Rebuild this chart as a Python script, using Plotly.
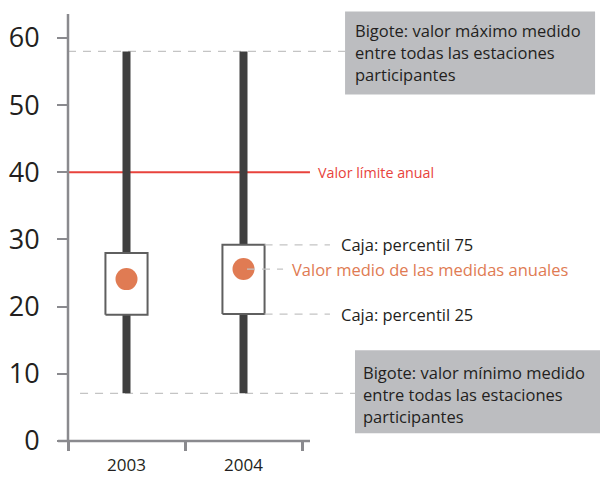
import plotly.graph_objects as go

# Annual NO2-style summary per year
years = ["2003", "2004"]
whisker_min = [7.1, 7.1]
whisker_max = [58.0, 58.0]
p25 = [18.8, 18.9]
p75 = [28.0, 29.2]
means = [24.1, 25.6]
limit_value = 40
y_ticks = [0, 10, 20, 30, 40, 50, 60]

max_note = ["Bigote: valor máximo medido", "entre todas las estaciones", "participantes"]
min_note = ["Bigote: valor mínimo medido", "entre todas las estaciones", "participantes"]
limit_label = "Valor límite anual"
p75_label = "Caja: percentil 75"
p25_label = "Caja: percentil 25"
mean_label = "Valor medio de las medidas anuales"

FONT = "Open Sans"
TEXT = "#231f20"
AXIS = "#8a8a8e"
WHISKER = "#3f3f3f"
BOX_LINE = "#5f5f5f"
DOT = "#e07b53"
RED = "#e8433c"
DASH = "#c4c4c4"
NOTE_BG = "#bcbdc0"

xpos = list(range(len(years)))
half_box = 0.18

fig = go.Figure()

# whiskers
for i in xpos:
    fig.add_trace(go.Scatter(
        x=[i, i], y=[whisker_min[i], whisker_max[i]], mode="lines",
        line=dict(color=WHISKER, width=8), hoverinfo="skip", showlegend=False))

# interquartile boxes
for i in xpos:
    fig.add_trace(go.Scatter(
        x=[i - half_box, i + half_box, i + half_box, i - half_box, i - half_box],
        y=[p25[i], p25[i], p75[i], p75[i], p25[i]],
        mode="lines", fill="toself", fillcolor="white",
        line=dict(color=BOX_LINE, width=2), hoverinfo="skip", showlegend=False))

# annual means
fig.add_trace(go.Scatter(
    x=xpos, y=means, mode="markers",
    marker=dict(color=DOT, size=22, line=dict(width=0)),
    hoverinfo="skip", showlegend=False))

last = xpos[-1]
dash_style = dict(color=DASH, width=1.2, dash="8px,7px")
shapes = [
    # limit line
    dict(type="line", xref="x", yref="y", x0=-0.5, x1=1.568,
         y0=limit_value, y1=limit_value, line=dict(color=RED, width=2), layer="below"),
    # whisker extremes
    dict(type="line", xref="x", yref="y", x0=-0.5, x1=1.868,
         y0=max(whisker_max), y1=max(whisker_max), line=dash_style, layer="below"),
    dict(type="line", xref="x", yref="y", x0=-0.397, x1=1.953,
         y0=min(whisker_min), y1=min(whisker_min), line=dash_style, layer="below"),
    # box guides
    dict(type="line", xref="x", yref="y", x0=last + half_box, x1=1.739,
         y0=p75[last], y1=p75[last], line=dash_style),
    dict(type="line", xref="x", yref="y", x0=last + half_box, x1=1.739,
         y0=p25[last], y1=p25[last], line=dash_style),
    dict(type="line", xref="x", yref="y", x0=last + 0.03, x1=1.338,
         y0=means[last], y1=means[last], line=dash_style),
    # note backgrounds
    dict(type="rect", xref="x", yref="y", xsizemode="pixel", ysizemode="pixel",
         xanchor=1.868, yanchor=max(whisker_max), x0=0, x1=250, y0=-43, y1=40,
         fillcolor=NOTE_BG, line=dict(width=0)),
    dict(type="rect", xref="x", yref="y", xsizemode="pixel", ysizemode="pixel",
         xanchor=1.953, yanchor=min(whisker_min), x0=0, x1=250, y0=-40, y1=43,
         fillcolor=NOTE_BG, line=dict(width=0)),
    # axis lines
    dict(type="line", xref="paper", yref="paper", x0=-0.0188, x1=0.4549, y0=0, y1=0,
         line=dict(color=AXIS, width=2.5)),
    dict(type="line", xref="paper", yref="paper", x0=0, x1=0, y0=0, y1=0.968,
         line=dict(color=AXIS, width=2.5)),
]

annotations = [
    dict(x=1.62, y=limit_value, text=limit_label, xanchor="left", yanchor="middle",
         showarrow=False, font=dict(family=FONT, size=14.3, color=RED)),
    dict(x=1.816, y=p75[last], text=p75_label, xanchor="left", yanchor="middle",
         showarrow=False, font=dict(family=FONT, size=16.5, color=TEXT)),
    dict(x=1.816, y=p25[last], text=p25_label, xanchor="left", yanchor="middle",
         showarrow=False, font=dict(family=FONT, size=16.5, color=TEXT)),
    dict(x=1.397, y=means[last], text=mean_label, xanchor="left", yanchor="middle",
         showarrow=False, font=dict(family=FONT, size=16.5, color=DOT)),
]
line_offsets = [21, -1, -23]
for note, xa, xs, ya in [(max_note, 1.868, 8, max(whisker_max)),
                         (min_note, 1.953, 6, min(whisker_min))]:
    for line, off in zip(note, line_offsets):
        annotations.append(dict(
            x=xa, y=ya, text=line, xanchor="left", yanchor="middle",
            xshift=xs, yshift=off, showarrow=False,
            font=dict(family=FONT, size=16.5, color=TEXT)))

fig.update_layout(
    width=600, height=477,
    margin=dict(l=68, r=0, t=0, b=36),
    paper_bgcolor="white", plot_bgcolor="white",
    shapes=shapes, annotations=annotations,
    xaxis=dict(
        range=[-0.5, -0.5 + 532 / 117], tickvals=xpos, ticktext=years,
        ticks="", showgrid=False, zeroline=False, showline=False, automargin=False,
        tickfont=dict(family=FONT, size=17, color=TEXT), ticklabelstandoff=12,
        minor=dict(tickmode="array", tickvals=[-0.5, 0.5, 1.5], ticks="outside",
                   ticklen=9, tickwidth=2.5, tickcolor=AXIS, showgrid=False),
    ),
    yaxis=dict(
        range=[0, 441 / 6.717], tickvals=y_ticks, ticks="outside", ticklen=10,
        tickwidth=2, tickcolor=AXIS, showgrid=False, zeroline=False, showline=False,
        automargin=False,
        tickfont=dict(family=FONT, size=27, color=TEXT), ticklabelstandoff=12,
    ),
)

fig.write_html("out.html")
